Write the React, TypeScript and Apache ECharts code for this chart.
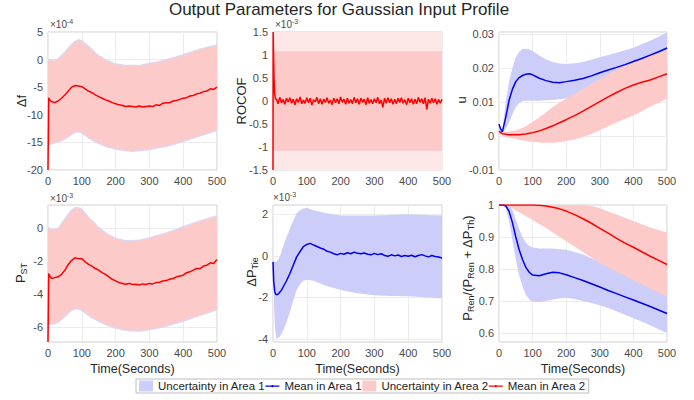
import React, { useEffect, useRef } from 'react';
import * as echarts from 'echarts';

const FONT = '"Liberation Sans", Arial, Helvetica, sans-serif';

// ---------- Panel 1 (Δf, ×1e-4) and Panel 4 (P_ST, ×1e-3) ----------
const meanT = [0, 2, 5, 10, 20, 30, 40, 50, 60, 70, 80, 90, 100, 110, 120, 130, 140, 150, 160, 170, 180, 190, 200,
  210, 220, 230, 240, 250, 260, 270, 280, 290, 300, 310, 320, 330, 340, 350, 360, 370, 380, 390, 400,
  410, 420, 430, 440, 450, 460, 470, 480, 490, 500];
const dfMean = [-20, -6.9, -7.3, -7.6, -7.8, -7.5, -7.0, -6.4, -5.7, -5.0, -4.7, -4.8, -4.9,
  -5.3, -5.7, -6.0, -6.4, -6.7, -7.0, -7.3, -7.5, -7.8, -8.0,
  -8.2, -8.3, -8.5, -8.4, -8.5, -8.6, -8.4, -8.6, -8.5, -8.4,
  -8.5, -8.2, -8.3, -7.9, -7.8, -7.8, -7.5, -7.4, -7.2, -7.0,
  -6.9, -6.6, -6.5, -6.2, -6.1, -5.8, -5.7, -5.3, -5.4, -5.0];
const pstMean = [-6.9, -2.75, -2.9, -3.05, -3.0, -2.95, -2.8, -2.55, -2.2, -1.95, -1.8, -1.85, -1.85,
  -2.05, -2.2, -2.3, -2.45, -2.55, -2.7, -2.8, -2.95, -3.1, -3.2,
  -3.3, -3.35, -3.4, -3.35, -3.42, -3.4, -3.45, -3.38, -3.42, -3.35,
  -3.38, -3.3, -3.28, -3.2, -3.18, -3.1, -3.05, -2.95, -2.9, -2.85,
  -2.7, -2.65, -2.55, -2.45, -2.45, -2.3, -2.25, -2.1, -2.15, -1.9];
const bandT = [0, 10, 20, 30, 40, 50, 60, 70, 80, 90, 100, 110, 120, 130, 140, 150,
  175, 200, 225, 250, 275, 300, 325, 350, 375, 400, 425, 450, 475, 500];
const dfUp = [0, -0.2, -0.2, 0.0, 0.6, 1.2, 1.9, 2.6, 3.2, 3.5, 3.3, 2.8, 2.3, 1.7, 1.1, 0.6,
  -0.3, -0.9, -1.1, -1.15, -1.1, -0.8, -0.5, -0.1, 0.3, 0.8, 1.3, 1.8, 2.2, 2.5];
const dfLo = [-15.2, -15.2, -15.0, -14.8, -14.6, -14.3, -13.9, -13.4, -13.1, -13.0, -13.2, -13.6, -14.0, -14.4, -14.8, -15.1,
  -15.7, -16.1, -16.4, -16.5, -16.4, -16.2, -15.9, -15.6, -15.2, -14.7, -14.2, -13.7, -13.2, -12.7];
const pstUp = [0, -0.1, -0.1, -0.05, 0.2, 0.5, 0.8, 1.05, 1.2, 1.2, 1.1, 0.85, 0.6, 0.4, 0.2, 0.0,
  -0.4, -0.65, -0.78, -0.8, -0.75, -0.62, -0.48, -0.32, -0.15, 0.05, 0.22, 0.4, 0.55, 0.72];
const pstLo = [-5.8, -5.8, -5.75, -5.65, -5.5, -5.3, -5.1, -4.95, -4.85, -4.85, -4.95, -5.1, -5.25, -5.4, -5.5, -5.6,
  -5.85, -6.02, -6.15, -6.2, -6.2, -6.12, -6.02, -5.9, -5.75, -5.6, -5.42, -5.25, -5.08, -4.9];

// ---------- Panel 2 (ROCOF, ×1e-3) ----------
const rocofHeadT = [0, 0.5, 2, 3, 5, 8];
const rocofHeadV = [-1.5, 1.5, 0.9, 0.5, 0.15, 0.03];
const rocofNoise = [0.05, -0.06, 0.08, -0.04, 0.03, -0.07, 0.06, -0.02, 0.07, -0.05,
  0.04, -0.08, 0.05, -0.03, 0.09, -0.06, 0.02, -0.05, 0.07, -0.04,
  0.06, -0.09, 0.03, -0.02, 0.08, -0.06, 0.05, -0.07, 0.04, -0.03,
  0.07, -0.05, 0.02, -0.08, 0.06, -0.04, 0.05, -0.06, 0.09, -0.03,
  0.04, -0.07, 0.06, -0.05, 0.03, -0.06, 0.08, -0.04, 0.05, -0.07,
  0.06, -0.03, 0.04, -0.08, 0.07, -0.05, 0.03, -0.06, 0.05, -0.04,
  0.08, -0.06, 0.02, -0.14, 0.06, -0.05, 0.07, -0.04, 0.05, -0.07,
  0.04, -0.06, 0.06, -0.03, 0.07, -0.05, 0.03, -0.08, 0.06, -0.04,
  0.05, -0.07, 0.04, -0.06, 0.08, -0.03, 0.05, -0.06, 0.07, -0.18,
  0.04, -0.05, 0.06, -0.04, 0.05, -0.07, 0.03, -0.05, 0.04];
const rocofNoiseT = rocofNoise.map((_, i) => 10 + 5 * i);
const rocofBandT = [0, 500];
const rocofInnerUp = [1.08, 1.08];
const rocofInnerLo = [-1.08, -1.08];
const rocofOuterUp = [1.5, 1.5];
const rocofOuterLo = [-1.5, -1.5];

// ---------- Panel 3 (u) ----------
const p3T = [0, 5, 10, 20, 30, 40, 50, 60, 70, 80, 90, 100, 120, 140, 160, 180, 200,
  225, 250, 275, 300, 325, 350, 375, 400, 425, 450, 475, 500];
const uBlueMean = [0.0035, 0.002, 0.0012, 0.0055, 0.0105, 0.0138, 0.016, 0.0172, 0.0178, 0.0182, 0.0183, 0.018,
  0.017, 0.0163, 0.0158, 0.0157, 0.016,
  0.0164, 0.0169, 0.0177, 0.0186, 0.0194, 0.0202, 0.021, 0.0219, 0.0228, 0.0238, 0.0248, 0.0259];
const uBlueUp = [0.0035, 0.002, 0.0015, 0.01, 0.016, 0.02, 0.0232, 0.0248, 0.0255, 0.0257, 0.0255, 0.025,
  0.0237, 0.0225, 0.0218, 0.0213, 0.0212,
  0.0214, 0.0218, 0.0224, 0.0232, 0.0238, 0.0245, 0.0252, 0.026, 0.027, 0.028, 0.0292, 0.0305];
const uBlueLo = [0.0035, 0.002, 0.001, 0.002, 0.004, 0.0065, 0.0085, 0.0097, 0.0102, 0.0104, 0.0104, 0.0104,
  0.0104, 0.0105, 0.0106, 0.0108, 0.011,
  0.0113, 0.0118, 0.0124, 0.013, 0.0138, 0.0146, 0.0155, 0.0164, 0.0173, 0.0182, 0.0191, 0.02];
const uRedMean = [0.0015, 0.001, 0.0007, 0.0005, 0.0004, 0.0004, 0.0004, 0.0004, 0.0005, 0.0006, 0.0008, 0.001,
  0.0015, 0.0022, 0.003, 0.0039, 0.0048,
  0.006, 0.0073, 0.0087, 0.0101, 0.0115, 0.0128, 0.014, 0.015, 0.0158, 0.0165, 0.0174, 0.0183];
const uRedUp = [0.0015, 0.0013, 0.0012, 0.0012, 0.0013, 0.0015, 0.0017, 0.002, 0.0024, 0.0029, 0.0035, 0.0041,
  0.0055, 0.007, 0.0085, 0.0098, 0.011,
  0.0124, 0.0138, 0.0153, 0.0168, 0.0182, 0.0195, 0.0207, 0.0218, 0.0228, 0.0237, 0.0245, 0.0252];
const uRedLo = [0.0005, 0.0003, 0, -0.0003, -0.0005, -0.0007, -0.0009, -0.0011, -0.0013, -0.0014, -0.0016, -0.0017,
  -0.0019, -0.002, -0.002, -0.0018, -0.0015,
  -0.001, -0.0003, 0.0006, 0.0017, 0.0029, 0.004, 0.005, 0.006, 0.0073, 0.0086, 0.0098, 0.011];

// ---------- Panel 5 (ΔP_Tie, ×1e-3) ----------
const tieT = [0, 2, 5, 8, 12, 16, 20, 25, 30, 40, 50, 60, 70, 80, 90, 100, 110, 120, 130, 140, 150, 160, 170, 180, 190, 200,
  210, 220, 230, 240, 250, 260, 270, 280, 290, 300, 310, 320, 330, 340, 350, 360, 370, 380, 390, 400,
  410, 420, 430, 440, 450, 460, 470, 480, 490, 500];
const tieMean = [-0.3, -1.2, -1.7, -1.85, -1.87, -1.83, -1.75, -1.65, -1.5, -1.2, -0.85, -0.45, -0.05, 0.2, 0.45, 0.55,
  0.6, 0.52, 0.45, 0.38, 0.32, 0.22, 0.18, 0.1, 0.05, 0.12,
  0.08, 0.15, 0.1, 0.18, 0.12, 0.1, 0.14, 0.08, 0.05, 0.12,
  0.06, 0.1, 0.02, -0.02, 0.05, 0.0, 0.04, -0.03, 0.02, -0.02,
  0.03, -0.04, 0.02, 0.06, 0.0, -0.05, 0.02, -0.03, -0.06, -0.1];
const tieBandT = [0, 5, 10, 20, 30, 40, 50, 60, 70, 80, 90, 100, 120, 150, 200, 250, 300, 350, 400, 450, 500];
const tieUp = [-0.2, -0.3, -0.3, -0.05, 0.45, 0.9, 1.3, 1.7, 2.05, 2.2, 2.28, 2.3, 2.2, 2.08, 1.95, 1.95, 1.95, 1.97, 2.0, 1.97, 1.95];
const tieLo = [-0.5, -3.3, -4.0, -3.9, -3.6, -3.2, -2.7, -2.15, -1.65, -1.35, -1.2, -1.15, -1.2, -1.4, -1.65, -1.8, -1.9, -1.93, -1.95, -2.0, -2.05];

// ---------- Panel 6 (P_Ren/(P_Ren+ΔP_Th)) ----------
const p6T = [0, 10, 20, 30, 40, 50, 60, 70, 80, 90, 100, 120, 140, 160, 180, 200,
  225, 250, 275, 300, 325, 350, 375, 400, 425, 450, 475, 500];
const rBlueMean = [1, 1, 0.998, 0.98, 0.945, 0.9, 0.86, 0.83, 0.805, 0.79, 0.781, 0.779, 0.785, 0.79, 0.788, 0.782,
  0.773, 0.764, 0.754, 0.744, 0.733, 0.723, 0.713, 0.703, 0.693, 0.683, 0.672, 0.661];
const rBlueUp = [1, 1, 1, 1, 0.985, 0.955, 0.925, 0.9, 0.882, 0.872, 0.867, 0.864, 0.864, 0.864, 0.862, 0.86,
  0.853, 0.845, 0.834, 0.822, 0.81, 0.797, 0.784, 0.771, 0.758, 0.745, 0.732, 0.72];
const rBlueLo = [1, 1, 0.99, 0.95, 0.89, 0.83, 0.78, 0.745, 0.72, 0.705, 0.698, 0.697, 0.7, 0.705, 0.708, 0.71,
  0.706, 0.7, 0.694, 0.687, 0.678, 0.668, 0.657, 0.646, 0.636, 0.624, 0.612, 0.6];
const rRedMean = [1, 1, 1, 1, 1, 1, 1, 1, 1, 1, 1, 0.999, 0.997, 0.993, 0.988, 0.981,
  0.97, 0.957, 0.943, 0.927, 0.912, 0.896, 0.881, 0.868, 0.854, 0.84, 0.827, 0.814];
const rRedUp = [1, 1, 1, 1, 1, 1, 1, 1, 1, 1, 1, 1, 1, 1, 1, 1,
  1, 1, 0.998, 0.99, 0.98, 0.97, 0.96, 0.95, 0.94, 0.93, 0.922, 0.914];
const rRedLo = [1, 1, 1, 0.995, 0.989, 0.983, 0.977, 0.971, 0.965, 0.959, 0.953, 0.941, 0.928, 0.914, 0.9, 0.887,
  0.87, 0.853, 0.836, 0.819, 0.805, 0.792, 0.778, 0.765, 0.752, 0.739, 0.726, 0.713];

const xTicks = { min: 0, max: 500, interval: 100 };

const RED = '#ff0000';
const BLUE = '#0000ee';
const RED_BAND = '#fdcaca';
const BLUE_BAND = '#cdcdfa';
const FRINGE = '#d9d9f8';
const LABEL = '#4a4a4a';
const GRID_C = '#ececec';
const BORDER_C = '#cfcfcf';

const A1U = 'Uncertainty in Area 1';
const A1M = 'Mean in Area 1';
const A2U = 'Uncertainty in Area 2';
const A2M = 'Mean in Area 2';

// thin horizontal line icon (tiny corner dots fix the icon's bounding box)
const LINE_ICON = 'path://M0,0h0.01v0.01h-0.01z M0,5h14v1.3h-14z M6.2,4.6h1.6v2.1h-1.6z M13.99,10.99h0.01v0.01h-0.01z';

const pairs = (t: number[], v: number[]) => t.map((x, i) => [x, v[i]]);

function band(name: string, gi: number, t: number[], lo: number[], hi: number[], fill: string, stroke?: string) {
  return {
    type: 'custom',
    name,
    xAxisIndex: gi,
    yAxisIndex: gi,
    data: t.map((x, i) => [x, lo[i], hi[i]]),
    encode: { x: 0, y: [1, 2] },
    clip: true,
    silent: true,
    z: 2,
    itemStyle: { color: fill },
    renderItem: (params: any, api: any) => {
      if (params.dataIndexInside !== 0) return null;
      const pts: number[][] = [];
      for (let i = 0; i < t.length; i++) pts.push(api.coord([t[i], hi[i]]));
      for (let i = t.length - 1; i >= 0; i--) pts.push(api.coord([t[i], lo[i]]));
      return {
        type: 'polygon',
        shape: { points: pts },
        style: stroke ? { fill, stroke, lineWidth: 2.5 } : { fill, stroke: null },
      };
    },
  };
}

function mean(name: string, gi: number, t: number[], v: number[], color: string) {
  return {
    type: 'line',
    name,
    xAxisIndex: gi,
    yAxisIndex: gi,
    data: pairs(t, v),
    symbol: 'none',
    showSymbol: false,
    silent: true,
    z: 3,
    clip: true,
    lineStyle: { color, width: 1.5 },
    itemStyle: { color },
  };
}

const grids = [
  { left: 48, top: 32, width: 169, height: 138 },
  { left: 273, top: 32, width: 169, height: 138 },
  { left: 499, top: 32, width: 168, height: 138 },
  { left: 48, top: 205, width: 169, height: 137 },
  { left: 273, top: 205, width: 169, height: 137 },
  { left: 499, top: 205, width: 168, height: 137 },
];

const labelStyle = { color: LABEL, fontSize: 11, fontFamily: FONT, margin: 5 };

function xAxis(i: number) {
  return {
    type: 'value', gridIndex: i, ...xTicks,
    axisLine: { show: false }, axisTick: { show: false },
    axisLabel: { ...labelStyle },
    splitLine: { show: true, lineStyle: { color: GRID_C, width: 1 } },
  };
}

function yAxis(i: number, extra: any) {
  const { customValues, showMaxLabel, ...rest } = extra;
  return {
    type: 'value', gridIndex: i, ...rest,
    axisLine: { show: false },
    axisTick: customValues ? { show: false, customValues } : { show: false },
    axisLabel: customValues
      ? { ...labelStyle, customValues }
      : { ...labelStyle, showMaxLabel: showMaxLabel !== false },
    splitLine: { show: true, lineStyle: { color: GRID_C, width: 1 } },
  };
}

const rich = {
  a: { fontSize: 13, fontFamily: FONT, fill: '#262626' },
  s: { fontSize: 9, fontFamily: FONT, fill: '#262626', padding: [7, 0, 0, 0] },
  e: { fontSize: 10, fontFamily: FONT, fill: '#4a4a4a' },
  p: { fontSize: 7, fontFamily: FONT, fill: '#4a4a4a', padding: [0, 0, 6, 0] },
};

function vText(x: number, y: number, text: string) {
  return {
    type: 'text', x, y, rotation: Math.PI / 2, silent: true,
    style: { text, rich, align: 'center', verticalAlign: 'middle', textAlign: 'center', textVerticalAlign: 'middle' },
  };
}
function hText(x: number, y: number, text: string, size: number, align = 'center', color = '#262626') {
  return {
    type: 'text', x, y, silent: true,
    style: {
      text, fontSize: size, fontFamily: FONT, fill: color,
      align, verticalAlign: 'middle', textAlign: align, textVerticalAlign: 'middle',
    },
  };
}
function expText(x: number, y: number, text: string) {
  return {
    type: 'text', x, y, silent: true,
    style: { text, rich, align: 'left', verticalAlign: 'middle', textAlign: 'left', textVerticalAlign: 'middle' },
  };
}

export default function App() {
  const ref = useRef<HTMLDivElement>(null);
  useEffect(() => {
    if (!ref.current) return;
    const chart = echarts.init(ref.current, undefined, { renderer: 'svg' });
    const series: any[] = [
      // Panel 1
      band(A1U, 0, bandT, dfLo, dfUp, BLUE_BAND, FRINGE),
      band(A2U, 0, bandT, dfLo, dfUp, RED_BAND),
      mean(A2M, 0, meanT, dfMean, RED),
      // Panel 2
      band(A2U, 1, rocofBandT, rocofOuterLo, rocofOuterUp, '#fde7e7'),
      band(A2U, 1, rocofBandT, rocofInnerLo, rocofInnerUp, RED_BAND),
      mean(A2M, 1, rocofHeadT.concat(rocofNoiseT), rocofHeadV.concat(rocofNoise), RED),
      // Panel 3
      band(A1U, 2, p3T, uBlueLo, uBlueUp, BLUE_BAND),
      band(A2U, 2, p3T, uRedLo, uRedUp, RED_BAND),
      mean(A1M, 2, p3T, uBlueMean, BLUE),
      mean(A2M, 2, p3T, uRedMean, RED),
      // Panel 4
      band(A1U, 3, bandT, pstLo, pstUp, BLUE_BAND, FRINGE),
      band(A2U, 3, bandT, pstLo, pstUp, RED_BAND),
      mean(A2M, 3, meanT, pstMean, RED),
      // Panel 5
      band(A1U, 4, tieBandT, tieLo, tieUp, BLUE_BAND),
      mean(A1M, 4, tieT, tieMean, BLUE),
      // Panel 6
      band(A1U, 5, p6T, rBlueLo, rBlueUp, BLUE_BAND),
      band(A2U, 5, p6T, rRedLo, rRedUp, RED_BAND),
      mean(A1M, 5, p6T, rBlueMean, BLUE),
      mean(A2M, 5, p6T, rRedMean, RED),
    ];

    const option: any = {
      animation: false,
      backgroundColor: '#ffffff',
      grid: grids.map((g) => ({ ...g, show: true, borderColor: BORDER_C, borderWidth: 1, backgroundColor: 'transparent' })),
      xAxis: [0, 1, 2, 3, 4, 5].map(xAxis),
      yAxis: [
        yAxis(0, { min: -20, max: 5, interval: 5 }),
        yAxis(1, { min: -1.5, max: 1.5, interval: 0.5 }),
        yAxis(2, { min: -0.01, max: 0.0306, interval: 0.01, showMaxLabel: false }),
        yAxis(3, { min: -6.9, max: 1.4, customValues: [-6, -4, -2, 0] }),
        yAxis(4, { min: -4.15, max: 2.45, customValues: [-4, -2, 0, 2] }),
        yAxis(5, { min: 0.572, max: 1, customValues: [0.6, 0.7, 0.8, 0.9, 1] }),
      ],
      legend: {
        left: 136,
        top: 379,
        orient: 'horizontal',
        itemWidth: 14,
        itemHeight: 11,
        itemGap: 0,
        padding: [1, 3],
        borderColor: '#bdbdbd',
        borderWidth: 1,
        borderRadius: 0,
        selectedMode: false,
        textStyle: { fontSize: 11.5, fontFamily: FONT, color: '#222' },
        data: [
          { name: A1U, icon: 'rect', itemStyle: { color: BLUE_BAND } },
          { name: A1M, icon: LINE_ICON, itemStyle: { color: BLUE, borderWidth: 0 } },
          { name: A2U, icon: 'rect', itemStyle: { color: RED_BAND } },
          { name: A2M, icon: LINE_ICON, itemStyle: { color: RED, borderWidth: 0 } },
        ],
      },
      graphic: [
        hText(339, 9, 'Output Parameters for Gaussian Input Profile', 17),
        vText(21, 101, '{a|Δf}'),
        vText(241, 101, '{a|ROCOF}'),
        vText(461, 100, '{a|u}'),
        vText(20, 273, '{a|P}{s|ST}'),
        vText(251, 272, '{a|ΔP}{s|Tie}'),
        vText(467, 268, '{a|P}{s|Ren}{a|/(P}{s|Ren}{a| + ΔP}{s|Th}{a|)}'),
        hText(132.5, 369, 'Time(Seconds)', 12.5),
        hText(357.5, 369, 'Time(Seconds)', 12.5),
        hText(583, 369, 'Time(Seconds)', 12.5),
        expText(50, 24, '{e|×10}{p|-4}'),
        expText(275, 24, '{e|×10}{p|-3}'),
        expText(50, 198, '{e|×10}{p|-3}'),
        expText(273, 197, '{e|×10}{p|-3}'),
      ],
      series,
    };
    chart.setOption(option);
    return () => chart.dispose();
  }, []);
  return <div ref={ref} style={{ position: 'fixed', left: 0, top: 0, width: 694, height: 400 }} />;
}
